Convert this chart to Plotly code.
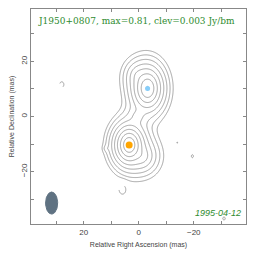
import numpy as np
import plotly.graph_objects as go

# ---- data ----
source = "J1950+0807"
peak_max = 0.81
clev = 0.003
obs_date = "1995-04-12"
n_levels = 9  # clev * 2**k

# model components (x mas, y mas, peak Jy/bm, scale_x, scale_y) -- exponential profiles
comp_x = [3.5, -1.5, -3.2, 0.5, 0.5, 11.8, -14.0]
comp_y = [-10.3, -14.5, 10.2, 15.0, 0.0, -11.6, -9.5]
comp_peak = [0.78, 0.05, 0.40, 0.025, 0.02, 0.0045, 0.0034]
comp_sx = [1.45, 2.0, 1.6, 1.8, 1.6, 0.6, 0.3]
comp_sy = [1.9, 2.2, 2.3, 2.0, 1.6, 0.6, 0.3]

# negative (dashed) features
neg_x = [5.9, 28.0, -19.5, -31.0]
neg_y = [-26.3, 11.6, -14.4, -37.0]
neg_peak = [0.0055, 0.0040, 0.0035, 0.0035]
neg_sx = [1.3, 1.0, 0.7, 0.8]
neg_sy = [1.8, 1.3, 1.0, 1.0]

# model-fit positions
core_xy = [3.5, -10.3]
jet_xy = [-3.2, 10.2]

# beam
beam_x, beam_y = 31.7, -31.4
beam_minor, beam_major = 4.4, 8.0

xticks = [-30, -20, -10, 0, 10, 20, 30]
xticklabels = ["", "\u221220", "", "0", "", "20", ""]

# ---- image ----
gx = np.linspace(-40, 40, 401)
gy = np.linspace(-40, 40, 401)
X, Y = np.meshgrid(gx, gy)
img = np.zeros_like(X)
for x0, y0, a, sx, sy in zip(comp_x, comp_y, comp_peak, comp_sx, comp_sy):
    r = np.sqrt(((X - x0) / sx) ** 2 + ((Y - y0) / sy) ** 2)
    img += a * np.exp(-np.sqrt(1 + r ** 2) + 1)
for x0, y0, a, sx, sy in zip(neg_x, neg_y, neg_peak, neg_sx, neg_sy):
    img -= a * np.exp(-0.5 * (((X - x0) / sx) ** 2 + ((Y - y0) / sy) ** 2))

pos = np.log2(np.clip(img, 1e-9, None) / clev)
neg = np.log2(np.clip(-img, 1e-9, None) / clev)

gray = "#8c8c8c"
fig = go.Figure()
fig.add_trace(go.Contour(
    x=gx, y=gy, z=pos, showscale=False,
    contours=dict(coloring="lines", start=0, end=n_levels - 1, size=1),
    colorscale=[[0, gray], [1, gray]], line=dict(width=0.8),
    hoverinfo="skip"))
fig.add_trace(go.Contour(
    x=gx, y=gy, z=neg, showscale=False,
    contours=dict(coloring="lines", start=0, end=0.5, size=1),
    colorscale=[[0, gray], [1, gray]], line=dict(width=0.8, dash="dash"),
    hoverinfo="skip"))

# beam ellipse
t = np.linspace(0, 2 * np.pi, 80)
fig.add_trace(go.Scatter(
    x=beam_x + beam_minor / 2 * np.cos(t), y=beam_y + beam_major / 2 * np.sin(t),
    mode="lines", fill="toself", fillcolor="#5f7282", line=dict(color="#5f7282", width=1),
    hoverinfo="skip"))

fig.add_trace(go.Scatter(x=[jet_xy[0]], y=[jet_xy[1]], mode="markers",
                         marker=dict(color="#87cefa", size=5)))
fig.add_trace(go.Scatter(x=[core_xy[0]], y=[core_xy[1]], mode="markers",
                         marker=dict(color="#ffa500", size=7)))

axis_common = dict(showgrid=False, zeroline=False, showline=True, linecolor="#888",
                   linewidth=1, mirror="ticks", ticks="inside", ticklen=3, automargin=False,
                   tickcolor="#888", tickfont=dict(family="Liberation Sans", size=8, color="#444"))
fig.update_xaxes(range=[39.2, -39], tickvals=xticks, ticktext=xticklabels,
                 title=dict(text="Relative Right Ascension (mas)",
                            font=dict(family="Liberation Sans", size=7, color="#444"), standoff=6),
                 **axis_common)
fig.update_yaxes(range=[-39, 39], tickvals=xticks, ticktext=xticklabels, tickangle=-90,
                 title=dict(text="Relative Declination (mas)",
                            font=dict(family="Liberation Sans", size=7, color="#444"), standoff=4),
                 **axis_common)

fig.add_annotation(xref="paper", yref="paper", x=0.025, y=0.975, xanchor="left", yanchor="top",
                   text=f"{source}, max={peak_max}, clev={clev} Jy/bm", showarrow=False,
                   font=dict(family="DejaVu Serif", size=9, color="#2e8b2e"))
fig.add_annotation(xref="paper", yref="paper", x=0.985, y=0.02, xanchor="right", yanchor="bottom",
                   text=f"<i>{obs_date}</i>", showarrow=False,
                   font=dict(family="Liberation Sans", size=9, color="#2e8b2e"))

fig.update_layout(width=256, height=254, margin=dict(l=23, r=18, t=1, b=38),
                  paper_bgcolor="white", plot_bgcolor="white", showlegend=False)
fig.write_html("out.html")
